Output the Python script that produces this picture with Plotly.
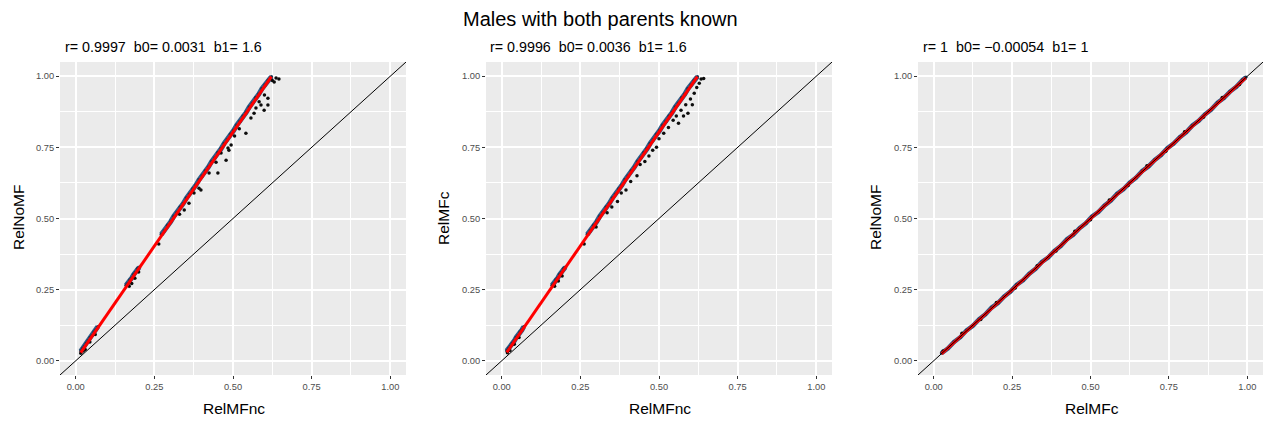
import plotly.graph_objects as go

TITLE = "Males with both parents known"
TICK_VALS = [0.0, 0.25, 0.5, 0.75, 1.0]
TICK_TEXT = ["0.00", "0.25", "0.50", "0.75", "1.00"]
MINOR_VALS = [0.125, 0.375, 0.625, 0.875]
AXIS_RANGE = [-0.05, 1.05]
NB = "\u00a0"

# ---------- Panel 1: RelMFnc vs RelNoMF ----------
p1_xlabel, p1_ylabel = "RelMFnc", "RelNoMF"
p1_stats = f"r= 0.9997{NB} b0= 0.0031{NB} b1= 1.6"
p1_b0, p1_b1 = 0.0031, 1.6
# dense band of points lying on the fitted line (None separates the clusters)
p1_x_band = [0.016, 0.022, 0.028, 0.034, 0.040, 0.046, 0.052, 0.058, 0.064, 0.070, None,
             0.160, 0.166, 0.172, 0.178, 0.184, 0.190, 0.196, 0.202, None,
             0.272, 0.282, 0.292, 0.302, 0.312, 0.322, 0.332, 0.342, 0.352, 0.362,
             0.372, 0.382, 0.392, 0.402, 0.412, 0.422, 0.432, 0.442, 0.452, 0.462,
             0.472, 0.482, 0.492, 0.502, 0.512, 0.522, 0.532, 0.542, 0.552, 0.562,
             0.572, 0.582, 0.592, 0.602, 0.612, 0.622]
p1_y_band = [0.034, 0.043, 0.051, 0.062, 0.070, 0.082, 0.089, 0.101, 0.108, 0.120, None,
             0.265, 0.272, 0.284, 0.291, 0.303, 0.310, 0.323, 0.329, None,
             0.444, 0.457, 0.476, 0.489, 0.508, 0.521, 0.540, 0.553, 0.572, 0.585,
             0.604, 0.617, 0.636, 0.649, 0.668, 0.681, 0.700, 0.713, 0.732, 0.745,
             0.764, 0.777, 0.796, 0.809, 0.828, 0.841, 0.860, 0.873, 0.892, 0.905,
             0.924, 0.937, 0.956, 0.969, 0.986, 0.998]
p1_x_dots = [0.016, 0.024, 0.030, 0.045, 0.062, 0.170, 0.178, 0.188, 0.200, 0.264,
             0.330, 0.345, 0.360, 0.376, 0.392, 0.398, 0.424, 0.446, 0.452, 0.462,
             0.478, 0.484, 0.487, 0.494, 0.505, 0.520, 0.541, 0.557, 0.567, 0.573,
             0.583, 0.589, 0.599, 0.600, 0.611, 0.611, 0.625, 0.631, 0.637, 0.646]
p1_y_dots = [0.026, 0.034, 0.040, 0.066, 0.092, 0.262, 0.272, 0.290, 0.312, 0.410,
             0.515, 0.530, 0.554, 0.590, 0.606, 0.600, 0.660, 0.698, 0.660, 0.730,
             0.705, 0.748, 0.740, 0.758, 0.790, 0.815, 0.800, 0.853, 0.870, 0.888,
             0.910, 0.899, 0.880, 0.934, 0.899, 0.923, 0.985, 0.980, 0.994, 0.990]

# ---------- Panel 2: RelMFnc vs RelMFc ----------
p2_xlabel, p2_ylabel = "RelMFnc", "RelMFc"
p2_stats = f"r= 0.9996{NB} b0= 0.0036{NB} b1= 1.6"
p2_b0, p2_b1 = 0.0036, 1.6
p2_x_band = [0.016, 0.022, 0.028, 0.034, 0.040, 0.046, 0.052, 0.058, 0.064, 0.070, None,
             0.160, 0.166, 0.172, 0.178, 0.184, 0.190, 0.196, 0.202, None,
             0.272, 0.282, 0.292, 0.302, 0.312, 0.322, 0.332, 0.342, 0.352, 0.362,
             0.372, 0.382, 0.392, 0.402, 0.412, 0.422, 0.432, 0.442, 0.452, 0.462,
             0.472, 0.482, 0.492, 0.502, 0.512, 0.522, 0.532, 0.542, 0.552, 0.562,
             0.572, 0.582, 0.592, 0.602, 0.612, 0.622]
p2_y_band = [0.035, 0.043, 0.051, 0.062, 0.070, 0.082, 0.089, 0.101, 0.108, 0.120, None,
             0.265, 0.272, 0.284, 0.291, 0.303, 0.310, 0.323, 0.329, None,
             0.444, 0.457, 0.476, 0.489, 0.508, 0.521, 0.540, 0.553, 0.572, 0.585,
             0.604, 0.617, 0.636, 0.649, 0.668, 0.681, 0.700, 0.713, 0.732, 0.745,
             0.764, 0.777, 0.796, 0.809, 0.828, 0.841, 0.860, 0.873, 0.892, 0.905,
             0.924, 0.937, 0.956, 0.969, 0.986, 0.998]
p2_x_dots = [0.018, 0.026, 0.040, 0.055, 0.168, 0.180, 0.192, 0.262, 0.300, 0.335,
             0.350, 0.368, 0.380, 0.395, 0.410, 0.430, 0.440, 0.455, 0.468, 0.480,
             0.492, 0.500, 0.515, 0.530, 0.545, 0.555, 0.562, 0.570, 0.578, 0.585,
             0.592, 0.600, 0.606, 0.612, 0.620, 0.628, 0.634, 0.642]
p2_y_dots = [0.028, 0.036, 0.058, 0.082, 0.262, 0.280, 0.298, 0.410, 0.470, 0.520,
             0.540, 0.560, 0.590, 0.600, 0.630, 0.650, 0.690, 0.700, 0.720, 0.740,
             0.750, 0.780, 0.800, 0.820, 0.845, 0.860, 0.835, 0.880, 0.860, 0.900,
             0.870, 0.920, 0.900, 0.940, 0.960, 0.975, 0.990, 0.992]

# ---------- Panel 3: RelMFc vs RelNoMF ----------
p3_xlabel, p3_ylabel = "RelMFc", "RelNoMF"
p3_stats = f"r= 1{NB} b0= \u22120.00054{NB} b1= 1"
p3_b0, p3_b1 = -0.00054, 1.0
p3_x_band = [0.025, 0.045, 0.065, 0.085, 0.105, 0.125, 0.145, 0.165, 0.185, 0.205,
             0.225, 0.245, 0.265, 0.285, 0.305, 0.325, 0.345, 0.365, 0.385, 0.405,
             0.425, 0.445, 0.465, 0.485, 0.505, 0.525, 0.545, 0.565, 0.585, 0.605,
             0.625, 0.645, 0.665, 0.685, 0.705, 0.725, 0.745, 0.765, 0.785, 0.805,
             0.825, 0.845, 0.865, 0.885, 0.905, 0.925, 0.945, 0.965, 0.985, 0.995]
p3_y_band = [0.027, 0.043, 0.066, 0.083, 0.107, 0.123, 0.146, 0.163, 0.187, 0.203,
             0.226, 0.243, 0.267, 0.283, 0.306, 0.323, 0.347, 0.363, 0.386, 0.403,
             0.427, 0.443, 0.466, 0.483, 0.507, 0.523, 0.546, 0.563, 0.587, 0.603,
             0.626, 0.643, 0.667, 0.683, 0.706, 0.723, 0.747, 0.763, 0.786, 0.803,
             0.827, 0.843, 0.866, 0.883, 0.907, 0.923, 0.946, 0.963, 0.987, 0.996]
p3_x_dots = [0.030, 0.090, 0.150, 0.200, 0.260, 0.330, 0.390, 0.450, 0.500, 0.560,
             0.620, 0.680, 0.740, 0.800, 0.860, 0.920, 0.975]
p3_y_dots = [0.034, 0.097, 0.145, 0.205, 0.256, 0.334, 0.386, 0.455, 0.496, 0.565,
             0.616, 0.685, 0.736, 0.805, 0.856, 0.925, 0.971]

panels = [
    (p1_x_band, p1_y_band, p1_x_dots, p1_y_dots, p1_b0, p1_b1, p1_stats, p1_xlabel, p1_ylabel, 5),
    (p2_x_band, p2_y_band, p2_x_dots, p2_y_dots, p2_b0, p2_b1, p2_stats, p2_xlabel, p2_ylabel, 5),
    (p3_x_band, p3_y_band, p3_x_dots, p3_y_dots, p3_b0, p3_b1, p3_stats, p3_xlabel, p3_ylabel, 4.5),
]

W, H = 1263, 423
x_px = [(60, 406), (486, 832), (918, 1263)]
y_px = (62, 375)
ytitle_px = [18, 443, 875]
stats_px = [63, 488, 921]

FONT = "Liberation Sans, Arial, sans-serif"
fig = go.Figure()
annotations = []
shapes = []
layout_axes = {}

for i, (xb, yb, xd, yd, b0, b1, stats, xl, yl, bw) in enumerate(panels):
    n = i + 1
    xa = "x" if n == 1 else f"x{n}"
    ya = "y" if n == 1 else f"y{n}"
    fig.add_trace(go.Scatter(x=xb, y=yb, mode="lines", xaxis=xa, yaxis=ya, connectgaps=False,
                             line=dict(color="#2e5b86", width=bw), showlegend=False))
    fig.add_trace(go.Scatter(x=xb, y=yb, mode="markers", xaxis=xa, yaxis=ya,
                             marker=dict(size=3.5, color="#1a3550"), showlegend=False))
    fig.add_trace(go.Scatter(x=xd, y=yd, mode="markers", xaxis=xa, yaxis=ya,
                             marker=dict(size=3.5, color="#0d0d0d"), showlegend=False))
    bx = [v for v in xb if v is not None]
    lx = [min(bx), max(bx)]
    ly = [b0 + b1 * v for v in lx]
    fig.add_trace(go.Scatter(x=lx, y=ly, mode="lines", xaxis=xa, yaxis=ya,
                             line=dict(color="#FF0000", width=3), showlegend=False))
    shapes.append(dict(type="line", xref=xa, yref=ya,
                       x0=AXIS_RANGE[0], y0=AXIS_RANGE[0], x1=AXIS_RANGE[1], y1=AXIS_RANGE[1],
                       line=dict(color="black", width=1), layer="above"))
    common = dict(range=AXIS_RANGE, tickmode="array", tickvals=TICK_VALS, ticktext=TICK_TEXT,
                  showgrid=True, gridcolor="white", gridwidth=1.5, zeroline=False, showline=False,
                  ticks="outside", ticklen=3, tickwidth=1.2, tickcolor="#333333",
                  tickfont=dict(family=FONT, size=9.3, color="#4D4D4D"),
                  minor=dict(tickmode="array", tickvals=MINOR_VALS,
                             showgrid=True, gridcolor="white", gridwidth=0.7, ticks=""),
                  fixedrange=True)
    xd0 = x_px[i][0] / W
    xd1 = min(x_px[i][1] / W, 1.0)
    layout_axes[f"xaxis{'' if n == 1 else n}"] = dict(common, domain=[xd0, xd1], anchor=ya)
    layout_axes[f"yaxis{'' if n == 1 else n}"] = dict(common, domain=[1 - y_px[1] / H, 1 - y_px[0] / H],
                                                     anchor=xa)
    annotations.append(dict(text=stats, x=stats_px[i] / W, y=1 - 47 / H, xref="paper", yref="paper",
                            xanchor="left", yanchor="middle", showarrow=False,
                            font=dict(family=FONT, size=14.3, color="black")))
    annotations.append(dict(text=xl, x=(x_px[i][0] + x_px[i][1]) / 2 / W + 0.001, y=1 - 408 / H,
                            xref="paper", yref="paper", xanchor="center", yanchor="middle",
                            showarrow=False, font=dict(family=FONT, size=15.5, color="black")))
    annotations.append(dict(text=yl, x=ytitle_px[i] / W, y=1 - 218 / H, xref="paper", yref="paper",
                            xanchor="center", yanchor="middle", textangle=-90, showarrow=False,
                            font=dict(family=FONT, size=15.5, color="black")))

annotations.append(dict(text=TITLE, x=600 / W, y=1 - 19 / H, xref="paper", yref="paper",
                        xanchor="center", yanchor="middle", showarrow=False,
                        font=dict(family=FONT, size=20, color="black")))

fig.update_layout(width=W, height=H, margin=dict(l=0, r=0, t=0, b=0),
                  paper_bgcolor="white", plot_bgcolor="#EBEBEB",
                  annotations=annotations, shapes=shapes, **layout_axes)

fig.write_html("out.html", config={"displayModeBar": False},
               post_script="document.body.style.margin='0';document.body.style.padding='0';"
                           "document.body.style.overflow='hidden';")
